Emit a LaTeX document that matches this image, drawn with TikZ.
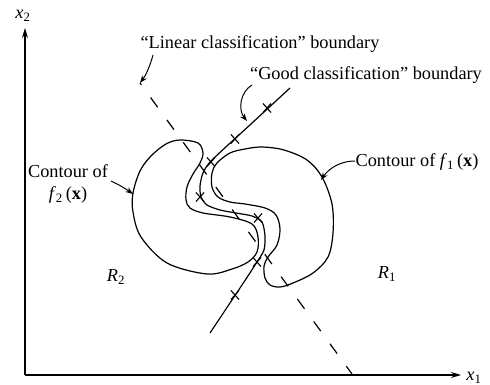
\documentclass[tikz,border=0pt]{standalone}
\usepackage{fontspec}
\setmainfont{Liberation Serif}
\usetikzlibrary{arrows.meta,shapes.misc}
\begin{document}
\begin{tikzpicture}[x=1pt,y=-1pt,
  contour/.style={line width=1.2pt, line join=round},
  axis/.style={line width=1.3pt, -{Stealth[length=10pt,width=6pt]}},
  linbd/.style={line width=1.2pt, dash pattern=on 12pt off 15.7pt, dash phase=9.7pt},
  goodbd/.style={line width=1.2pt, line join=round},
  leader/.style={line width=1pt, -{Stealth[length=7.5pt,width=5.5pt]}},
  xm/.style={cross out, draw, line width=1.1pt, minimum width=7pt, minimum height=8pt, inner sep=0pt},
  lbl/.style={font=\fontsize{18.3}{22}\selectfont, inner sep=0pt},
]
\useasboundingbox (0,0) rectangle (490,385);

% axes
\coordinate (O) at (25,375);
\coordinate (Ytip) at (25,28);
\coordinate (Xtip) at (461,375);
\draw[axis] (O) -- (Ytip);
\draw[axis] (O) -- (Xtip);
\node[lbl] (x2) at (23,16) {\textit{x}\textsubscript{2}};
\node[lbl] (x1) at (474,378) {\textit{x}\textsubscript{1}};

% contour of f2
\draw[contour] plot[smooth cycle, tension=0.55] coordinates {
  (180,140) (198,143) (203,153) (200,163) (193,174) (187,187) (186,200)
  (190,208) (203,213) (230,217) (252,224) (258,237) (257,252) (248,262)
  (232,269) (207,274) (167,263) (141,237) (133,212) (133,193) (140,171)
  (151,156) (166,144)};

% contour of f1
\draw[contour] plot[smooth cycle, tension=0.55] coordinates {
  (212,173) (217,163) (230,153) (245,149) (262,147) (284,150) (307,160)
  (322,177) (332,204) (333,233) (328,257) (313,273) (293,283) (280,287)
  (270,285) (265,278) (264,266) (268,257) (277,245) (280,229) (276,215)
  (265,208) (245,204) (230,202) (218,197) (212,187)};

% linear boundary
\coordinate (lintop) at (140,83);
\coordinate (linbot) at (352,374);
\draw[linbd] (lintop) -- (linbot);

% good boundary
\draw[goodbd] plot[smooth, tension=0.45] coordinates {
  (290,88) (251,124) (212,160) (203,173) (200,186) (201,197) (207,205)
  (220,210) (236,213) (252,216) (262,222) (265,236) (264,250) (257,262)
  (242,285) (210,333)};

% sample marks
\node[xm] (m1) at (267,108) {};
\node[xm] (m2) at (235,139) {};
\node[xm] (m3) at (211,162) {};
\node[xm] (m4) at (200,197) {};
\node[xm] (m5) at (258,218) {};
\node[xm] (m6) at (257,262) {};
\node[xm] (m7) at (235,295) {};

% labels
\node[lbl] (lintxt) at (260,44) {“Linear classification” boundary};
\node[lbl] (goodtxt) at (366,75) {“Good classification” boundary};
\node[lbl, align=center] (c2txt) at (68,184) {Contour of\\ \textit{f}\textsubscript{2}\,(\textbf{x})};
\node[lbl] (c1txt) at (417,162) {Contour of \textit{f}\textsubscript{1}\,(\textbf{x})};
\node[lbl] (R2) at (116,277) {\textit{R}\textsubscript{2}};
\node[lbl] (R1) at (387,274) {\textit{R}\textsubscript{1}};

% leaders
\coordinate (linfrom) at (153,55);
\draw[leader] (linfrom) .. controls (150,66) and (146,75) .. (lintop);
\coordinate (goodfrom) at (252,85);
\coordinate (goodtip) at (247,121);
\draw[leader] (goodfrom) .. controls (240,92) and (238,110) .. (goodtip);
\coordinate (c2from) at (111,181);
\coordinate (c2tip) at (133,194);
\draw[leader] (c2from) to[bend left=5] (c2tip);
\coordinate (c1from) at (355,161);
\coordinate (c1tip) at (321,180);
\draw[leader] (c1from) .. controls (342,161) and (330,167) .. (c1tip);
\end{tikzpicture}
\end{document}
